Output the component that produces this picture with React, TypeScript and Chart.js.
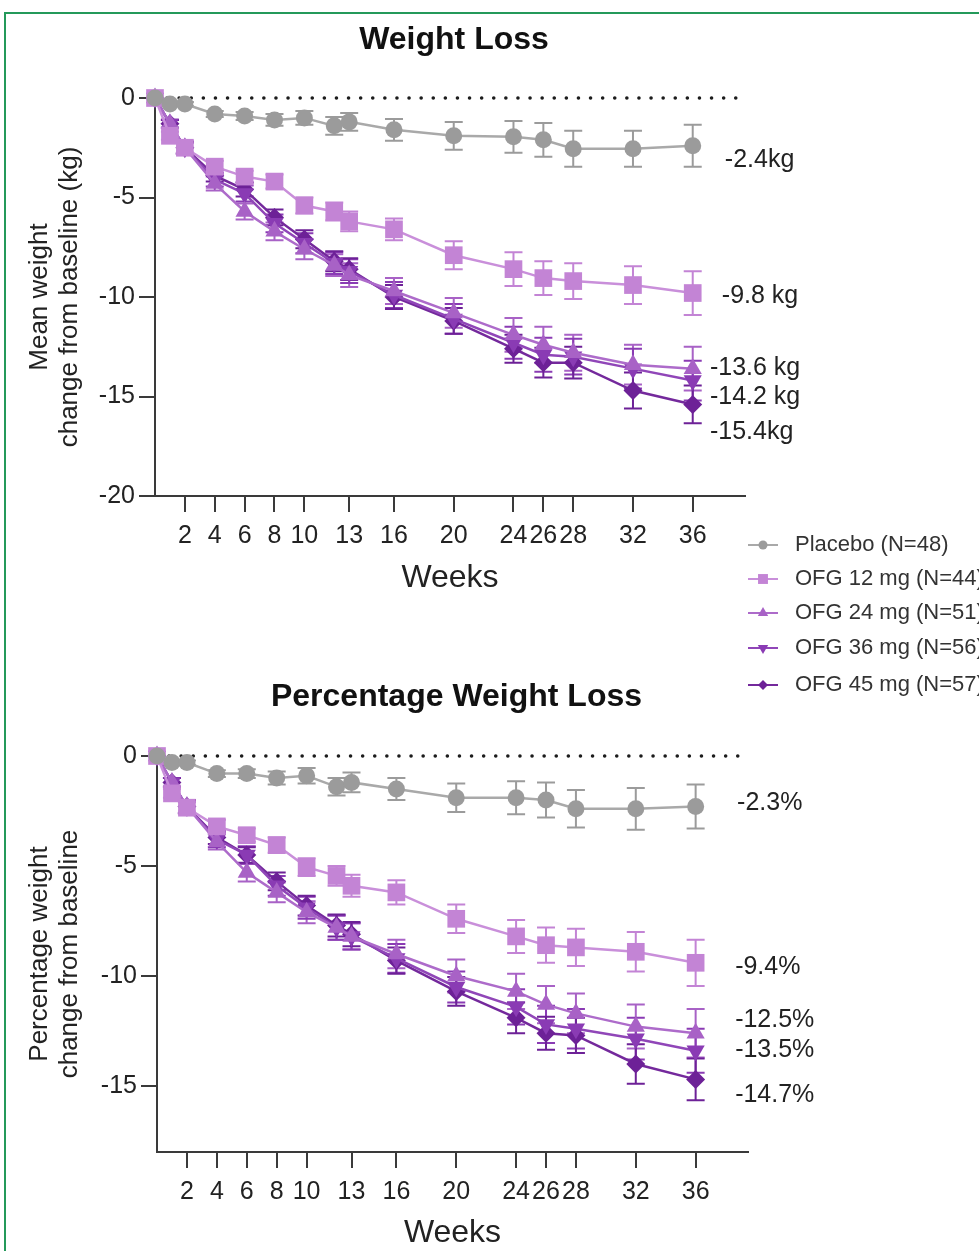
import { useEffect, useRef } from 'react';
import { Chart, registerables } from 'chart.js';

Chart.register(...registerables);

// ---------------- DATA ----------------
const weeks = [0, 1, 2, 4, 6, 8, 10, 12, 13, 16, 20, 24, 26, 28, 32, 36];
const xTickValues = [2, 4, 6, 8, 10, 13, 16, 20, 24, 26, 28, 32, 36];
const kgTickValues = [0, -5, -10, -15, -20];
const pctTickValues = [0, -5, -10, -15];

const seriesLabels = [
  'Placebo (N=48)',
  'OFG 12 mg (N=44)',
  'OFG 24 mg (N=51)',
  'OFG 36 mg (N=56)',
  'OFG 45 mg (N=57)',
];

const kgTitle = 'Weight Loss';
const pctTitle = 'Percentage Weight Loss';
const kgYTitle = ['Mean weight', 'change from baseline (kg)'];
const pctYTitle = ['Percentage weight', 'change from baseline'];
const xTitle = 'Weeks';

// Mean weight change (kg)
const kgPlacebo = [0, -0.3, -0.3, -0.8, -0.9, -1.1, -1.0, -1.4, -1.2, -1.6, -1.9, -1.95, -2.1, -2.55, -2.55, -2.4];
const kgOfg12 = [0, -1.9, -2.5, -3.45, -3.95, -4.2, -5.4, -5.7, -6.2, -6.6, -7.9, -8.6, -9.05, -9.2, -9.4, -9.8];
const kgOfg24 = [0, -1.3, -2.5, -4.3, -5.7, -6.7, -7.6, -8.4, -8.9, -9.7, -10.8, -11.9, -12.4, -12.8, -13.4, -13.6];
const kgOfg36 = [0, -1.3, -2.5, -4.1, -4.8, -6.3, -7.3, -8.3, -8.7, -9.9, -11.1, -12.3, -12.9, -13.0, -13.6, -14.2];
const kgOfg45 = [0, -1.3, -2.5, -3.9, -4.6, -6.0, -7.1, -8.2, -8.6, -10.0, -11.2, -12.6, -13.3, -13.3, -14.7, -15.4];

const kgPlaceboErr = [0, 0.1, 0.1, 0.15, 0.2, 0.3, 0.35, 0.45, 0.45, 0.55, 0.7, 0.8, 0.85, 0.9, 0.9, 1.05];
const kgOfg12Err = [0, 0.2, 0.25, 0.3, 0.3, 0.35, 0.4, 0.45, 0.5, 0.55, 0.7, 0.85, 0.85, 0.9, 0.95, 1.1];
const kgOfg24Err = [0, 0.2, 0.3, 0.35, 0.4, 0.45, 0.5, 0.55, 0.6, 0.65, 0.75, 0.85, 0.9, 0.9, 1.0, 1.1];
const kgOfg36Err = [0, 0.2, 0.3, 0.35, 0.4, 0.45, 0.5, 0.55, 0.6, 0.65, 0.75, 0.8, 0.85, 0.9, 1.0, 1.0];
const kgOfg45Err = [0, 0.2, 0.3, 0.3, 0.35, 0.4, 0.45, 0.5, 0.55, 0.6, 0.65, 0.7, 0.75, 0.8, 0.9, 0.95];

// Percentage weight change (%)
const pctPlacebo = [0, -0.3, -0.3, -0.8, -0.8, -1.0, -0.9, -1.4, -1.2, -1.5, -1.9, -1.9, -2.0, -2.4, -2.4, -2.3];
const pctOfg12 = [0, -1.7, -2.35, -3.2, -3.6, -4.05, -5.05, -5.45, -5.9, -6.2, -7.4, -8.2, -8.6, -8.7, -8.9, -9.4];
const pctOfg24 = [0, -1.2, -2.3, -3.9, -5.3, -6.2, -7.1, -7.8, -8.2, -9.0, -10.0, -10.7, -11.3, -11.7, -12.3, -12.6];
const pctOfg36 = [0, -1.2, -2.3, -3.8, -4.5, -5.9, -6.9, -7.8, -8.2, -9.2, -10.5, -11.4, -12.2, -12.4, -12.85, -13.4];
const pctOfg45 = [0, -1.2, -2.3, -3.7, -4.5, -5.7, -6.8, -7.7, -8.1, -9.3, -10.7, -11.9, -12.6, -12.7, -14.0, -14.7];

const pctPlaceboErr = [0, 0.1, 0.1, 0.15, 0.2, 0.3, 0.35, 0.4, 0.45, 0.5, 0.65, 0.75, 0.8, 0.85, 0.95, 1.0];
const pctOfg12Err = [0, 0.2, 0.25, 0.3, 0.3, 0.35, 0.4, 0.45, 0.5, 0.55, 0.65, 0.75, 0.8, 0.85, 0.9, 1.05];
const pctOfg24Err = [0, 0.2, 0.3, 0.35, 0.4, 0.45, 0.5, 0.55, 0.6, 0.65, 0.75, 0.8, 0.85, 0.9, 1.0, 1.1];
const pctOfg36Err = [0, 0.2, 0.3, 0.35, 0.4, 0.45, 0.5, 0.55, 0.6, 0.65, 0.7, 0.8, 0.85, 0.9, 0.95, 1.0];
const pctOfg45Err = [0, 0.2, 0.3, 0.3, 0.35, 0.4, 0.45, 0.5, 0.55, 0.6, 0.65, 0.7, 0.75, 0.8, 0.9, 0.95];

const kgEndLabels = ['-2.4kg', '-9.8 kg', '-13.6 kg', '-14.2 kg', '-15.4kg'];
const pctEndLabels = ['-2.3%', '-9.4%', '-12.5%', '-13.5%', '-14.7%'];

// ---------------- STYLE / LAYOUT ----------------
const FONT = "'Liberation Sans', Arial, Helvetica, sans-serif";
const AXIS = '#3a3a3a';
const TXT = '#222222';

const SERIES_STYLE = [
  { color: '#9b9b9b', line: '#a9a9a9', point: 'circle', rot: 0, r: 8.5, lw: 2.5, legR: 4.5 },
  { color: '#c384d5', line: '#c98fda', point: 'rect', rot: 0, r: 12.5, lw: 2.5, legR: 7 },
  { color: '#a862c6', line: '#ad6bca', point: 'triangle', rot: 0, r: 10.5, lw: 2.5, legR: 6 },
  { color: '#8a3bb4', line: '#9046b8', point: 'triangle', rot: 180, r: 10.5, lw: 2.5, legR: 6 },
  { color: '#6d2197', line: '#74299c', point: 'rectRot', rot: 0, r: 9.5, lw: 2.5, legR: 5 },
];

// end-label anchors, in data coordinates (weeks, value)
const kgLabelAnchors = [
  { x: 38.15, y: -3.12 },
  { x: 37.95, y: -9.95 },
  { x: 37.15, y: -13.57 },
  { x: 37.15, y: -15.05 },
  { x: 37.15, y: -16.78 },
];
const pctLabelAnchors = [
  { x: 38.77, y: -2.14 },
  { x: 38.64, y: -9.59 },
  { x: 38.64, y: -12.0 },
  { x: 38.64, y: -13.36 },
  { x: 38.64, y: -15.41 },
];

const LEGEND = { lineX0: 748, lineX1: 778, markX: 763, textX: 795, rows: [545, 579, 613, 648, 685], font: 22 };

type Panel = {
  title: string;
  titleY: number;
  yTitle: string[];
  series: number[][];
  errors: number[][];
  yTicks: number[];
  yMin: number;
  endLabels: string[];
  anchors: { x: number; y: number }[];
  pad: { top: number; right: number; bottom: number };
  yAxisW: number;
  xAxisH: number;
  legend: boolean;
};

const kgPanel: Panel = {
  title: kgTitle,
  titleY: 40,
  yTitle: kgYTitle,
  series: [kgPlacebo, kgOfg12, kgOfg24, kgOfg36, kgOfg45],
  errors: [kgPlaceboErr, kgOfg12Err, kgOfg24Err, kgOfg36Err, kgOfg45Err],
  yTicks: kgTickValues,
  yMin: -20,
  endLabels: kgEndLabels,
  anchors: kgLabelAnchors,
  pad: { top: 98, right: 234, bottom: 124 },
  yAxisW: 155,
  xAxisH: 100,
  legend: true,
};

const pctPanel: Panel = {
  title: pctTitle,
  titleY: 57,
  yTitle: pctYTitle,
  series: [pctPlacebo, pctOfg12, pctOfg24, pctOfg36, pctOfg45],
  errors: [pctPlaceboErr, pctOfg12Err, pctOfg24Err, pctOfg36Err, pctOfg45Err],
  yTicks: pctTickValues,
  yMin: -18,
  endLabels: pctEndLabels,
  anchors: pctLabelAnchors,
  pad: { top: 116, right: 231, bottom: 0 },
  yAxisW: 157,
  xAxisH: 99,
  legend: false,
};

function drawShape(ctx: CanvasRenderingContext2D, style: string, x: number, y: number, r: number, rot: number) {
  ctx.beginPath();
  if (style === 'circle') {
    ctx.arc(x, y, r, 0, Math.PI * 2);
  } else if (style === 'rect') {
    const s = r * Math.SQRT1_2;
    ctx.rect(x - s, y - s, 2 * s, 2 * s);
  } else if (style === 'triangle') {
    const d = rot === 180 ? -1 : 1;
    ctx.moveTo(x, y - d * r);
    ctx.lineTo(x + r * 0.866, y + d * r * 0.5);
    ctx.lineTo(x - r * 0.866, y + d * r * 0.5);
    ctx.closePath();
  } else {
    ctx.moveTo(x, y - r);
    ctx.lineTo(x + r, y);
    ctx.lineTo(x, y + r);
    ctx.lineTo(x - r, y);
    ctx.closePath();
  }
  ctx.fill();
}

const zeroLinePlugin = {
  id: 'zeroLine',
  beforeDatasetsDraw(chart: any) {
    const { ctx, chartArea } = chart;
    const y = chart.scales.y.getPixelForValue(0);
    ctx.save();
    ctx.strokeStyle = '#1c1c1c';
    ctx.lineWidth = 3.5;
    ctx.lineCap = 'round';
    ctx.setLineDash([0.1, 12]);
    ctx.beginPath();
    ctx.moveTo(chartArea.left + 12, y);
    ctx.lineTo(chartArea.right, y);
    ctx.stroke();
    ctx.restore();
  },
};

const errorBarPlugin = {
  id: 'errorBars',
  beforeDatasetsDraw(chart: any) {
    const { ctx } = chart;
    const ys = chart.scales.y;
    chart.data.datasets.forEach((ds: any, i: number) => {
      const meta = chart.getDatasetMeta(i);
      ctx.save();
      ctx.strokeStyle = ds.pointBackgroundColor;
      ctx.lineWidth = 2;
      meta.data.forEach((pt: any, j: number) => {
        const e = ds.errors[j];
        if (!e) return;
        const v = ds.data[j].y;
        const y1 = ys.getPixelForValue(v + e);
        const y2 = ys.getPixelForValue(v - e);
        const x = pt.x;
        ctx.beginPath();
        ctx.moveTo(x, y1);
        ctx.lineTo(x, y2);
        ctx.moveTo(x - 9, y1);
        ctx.lineTo(x + 9, y1);
        ctx.moveTo(x - 9, y2);
        ctx.lineTo(x + 9, y2);
        ctx.stroke();
      });
      ctx.restore();
    });
  },
};

function makeAnnotationPlugin(p: Panel) {
  return {
    id: 'annotations',
    afterDraw(chart: any) {
      const { ctx, chartArea } = chart;
      const xs = chart.scales.x;
      const ys = chart.scales.y;
      ctx.save();
      ctx.fillStyle = '#111';
      ctx.font = `bold 32px ${FONT}`;
      ctx.textAlign = 'center';
      ctx.textBaseline = 'middle';
      ctx.fillText(p.title, (chartArea.left + chartArea.right) / 2 + 4, p.titleY);

      ctx.fillStyle = TXT;
      ctx.font = `25px ${FONT}`;
      ctx.textAlign = 'left';
      p.endLabels.forEach((t, i) => {
        const a = p.anchors[i];
        ctx.fillText(t, xs.getPixelForValue(a.x), ys.getPixelForValue(a.y));
      });

      if (p.legend) {
        ctx.font = `${LEGEND.font}px ${FONT}`;
        seriesLabels.forEach((name, i) => {
          const st = SERIES_STYLE[i];
          const y = LEGEND.rows[i];
          ctx.strokeStyle = st.line;
          ctx.lineWidth = 2;
          ctx.beginPath();
          ctx.moveTo(LEGEND.lineX0, y);
          ctx.lineTo(LEGEND.lineX1, y);
          ctx.stroke();
          ctx.fillStyle = st.color;
          drawShape(ctx, st.point, LEGEND.markX, y, st.legR, st.rot);
          ctx.fillStyle = '#333';
          ctx.fillText(name, LEGEND.textX, y);
        });
      }
      ctx.restore();
    },
  };
}

function buildConfig(p: Panel): any {
  const datasets = p.series.map((vals, i) => {
    const st = SERIES_STYLE[i];
    return {
      label: seriesLabels[i],
      data: weeks.map((w, j) => ({ x: w, y: vals[j] })),
      errors: p.errors[i],
      borderColor: st.line,
      backgroundColor: st.color,
      pointBackgroundColor: st.color,
      pointBorderColor: st.color,
      pointBorderWidth: 0,
      pointStyle: st.point,
      pointRotation: st.rot,
      pointRadius: st.r,
      pointHoverRadius: st.r,
      borderWidth: st.lw,
      tension: 0,
      fill: false,
      clip: false,
    };
  });
  return {
    type: 'line',
    data: { datasets },
    plugins: [zeroLinePlugin, errorBarPlugin, makeAnnotationPlugin(p)],
    options: {
      responsive: false,
      animation: false,
      devicePixelRatio: 1,
      events: [],
      layout: { padding: { left: 0, top: p.pad.top, right: p.pad.right, bottom: p.pad.bottom } },
      plugins: { legend: { display: false }, tooltip: { enabled: false }, title: { display: false } },
      scales: {
        x: {
          type: 'linear',
          min: 0,
          max: 39.5,
          afterBuildTicks: (s: any) => {
            s.ticks = xTickValues.map((v) => ({ value: v }));
          },
          afterFit: (s: any) => {
            s.height = p.xAxisH;
          },
          grid: { drawOnChartArea: false, drawTicks: true, tickLength: 16, color: AXIS, lineWidth: 2 },
          border: { display: true, color: AXIS, width: 2 },
          ticks: {
            autoSkip: false,
            maxRotation: 0,
            minRotation: 0,
            padding: 9,
            color: TXT,
            font: { family: FONT, size: 25 },
            callback: (v: any) => String(v),
          },
          title: {
            display: true,
            text: xTitle,
            color: TXT,
            font: { family: FONT, size: 32, lineHeight: 1 },
            padding: { top: 0, bottom: 2 },
          },
        },
        y: {
          type: 'linear',
          min: p.yMin,
          max: 0,
          afterBuildTicks: (s: any) => {
            s.ticks = p.yTicks.map((v) => ({ value: v }));
          },
          afterFit: (s: any) => {
            s.width = p.yAxisW;
          },
          grid: { drawOnChartArea: false, drawTicks: true, tickLength: 16, color: AXIS, lineWidth: 2 },
          border: { display: true, color: AXIS, width: 2 },
          ticks: {
            padding: 4,
            color: TXT,
            font: { family: FONT, size: 25 },
            callback: (v: any) => String(v),
          },
          title: {
            display: true,
            text: p.yTitle,
            color: TXT,
            font: { family: FONT, size: 26, lineHeight: 30 / 26 },
            padding: { top: 25, bottom: 0 },
          },
        },
      },
    },
  };
}

export default function App() {
  const topRef = useRef<HTMLCanvasElement>(null);
  const botRef = useRef<HTMLCanvasElement>(null);

  useEffect(() => {
    const c1 = new Chart(topRef.current as HTMLCanvasElement, buildConfig(kgPanel));
    const c2 = new Chart(botRef.current as HTMLCanvasElement, buildConfig(pctPanel));
    return () => {
      c1.destroy();
      c2.destroy();
    };
  }, []);

  return (
    <div
      style={{
        position: 'absolute',
        left: 0,
        top: 0,
        width: 979,
        height: 1251,
        overflow: 'hidden',
        background: '#ffffff',
      }}
    >
      <div
        style={{
          position: 'absolute',
          left: 4,
          top: 12,
          width: 1100,
          height: 1400,
          border: '2px solid #24995a',
          boxSizing: 'border-box',
        }}
      />
      <canvas
        ref={topRef}
        width={979}
        height={720}
        style={{ position: 'absolute', left: 0, top: 0, width: 979, height: 720 }}
      />
      <canvas
        ref={botRef}
        width={979}
        height={611}
        style={{ position: 'absolute', left: 0, top: 640, width: 979, height: 611 }}
      />
    </div>
  );
}
